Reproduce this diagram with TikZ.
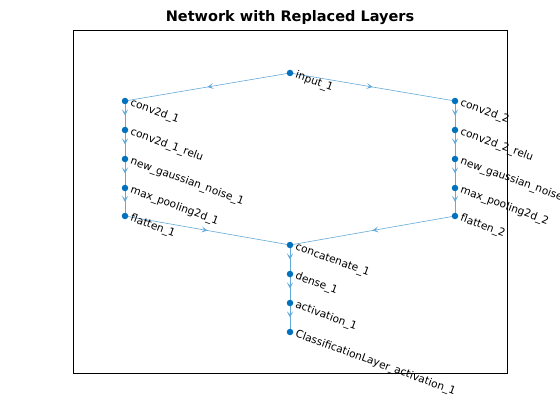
\documentclass[tikz,border=0pt]{standalone}
\usepackage{fontspec}
\setmainfont{DejaVu Sans}
\usetikzlibrary{arrows.meta,decorations.markings}
\definecolor{nodeblue}{RGB}{0,114,189}
\definecolor{edgeblue}{RGB}{100,170,218}
\begin{document}
\begin{tikzpicture}[x=1pt,y=-1pt,
  dot/.style={circle,fill=nodeblue,inner sep=0pt,minimum size=6.5pt},
  lbl/.style={anchor=west,rotate=-20,inner xsep=6pt,inner ysep=0pt,font=\fontsize{10.6}{12}\selectfont},
  edge/.style={draw=edgeblue,line width=0.6pt,postaction={decorate},
    decoration={markings,mark=at position 0.5 with {\arrow[edgeblue]{Stealth[length=6pt,width=6pt,inset=3pt]}}}},
  axbox/.style={draw=black,line width=0.6pt}]
\useasboundingbox (0,0) rectangle (560,420);
\fill[white] (0,0) rectangle (560,420);
\node[font=\bfseries\fontsize{14.5}{16}\selectfont] (title) at (290,18) {Network with Replaced Layers};
\draw[axbox] (73,30) rectangle (507,373);
% positions
\coordinate (in) at (290,73);
\coordinate (c1) at (125,101);
\coordinate (r1) at (125,130);
\coordinate (g1) at (125,159);
\coordinate (p1) at (125,188);
\coordinate (f1) at (125,216);
\coordinate (c2) at (455,101);
\coordinate (r2) at (455,130);
\coordinate (g2) at (455,159);
\coordinate (p2) at (455,188);
\coordinate (f2) at (455,216);
\coordinate (cat) at (290,245);
\coordinate (den) at (290,274);
\coordinate (act) at (290,303);
\coordinate (cls) at (290,332);
% edges
\draw[edge] (in) -- (c1);
\draw[edge] (in) -- (c2);
\draw[edge] (c1) -- (r1);
\draw[edge] (r1) -- (g1);
\draw[edge] (g1) -- (p1);
\draw[edge] (p1) -- (f1);
\draw[edge] (c2) -- (r2);
\draw[edge] (r2) -- (g2);
\draw[edge] (g2) -- (p2);
\draw[edge] (p2) -- (f2);
\draw[edge] (f1) -- (cat);
\draw[edge] (f2) -- (cat);
\draw[edge] (cat) -- (den);
\draw[edge] (den) -- (act);
\draw[edge] (act) -- (cls);
% markers and labels
\foreach \n/\t in {in/input\_1, c1/conv2d\_1, r1/conv2d\_1\_relu, g1/new\_gaussian\_noise\_1,
  p1/max\_pooling2d\_1, f1/flatten\_1, c2/conv2d\_2, r2/conv2d\_2\_relu, g2/new\_gaussian\_noise\_2,
  p2/max\_pooling2d\_2, f2/flatten\_2, cat/concatenate\_1, den/dense\_1, act/activation\_1,
  cls/ClassificationLayer\_activation\_1}{
  \node[dot] (m-\n) at (\n) {};
  \node[lbl] (l-\n) at (\n) {\t};
}
\end{tikzpicture}
\end{document}
